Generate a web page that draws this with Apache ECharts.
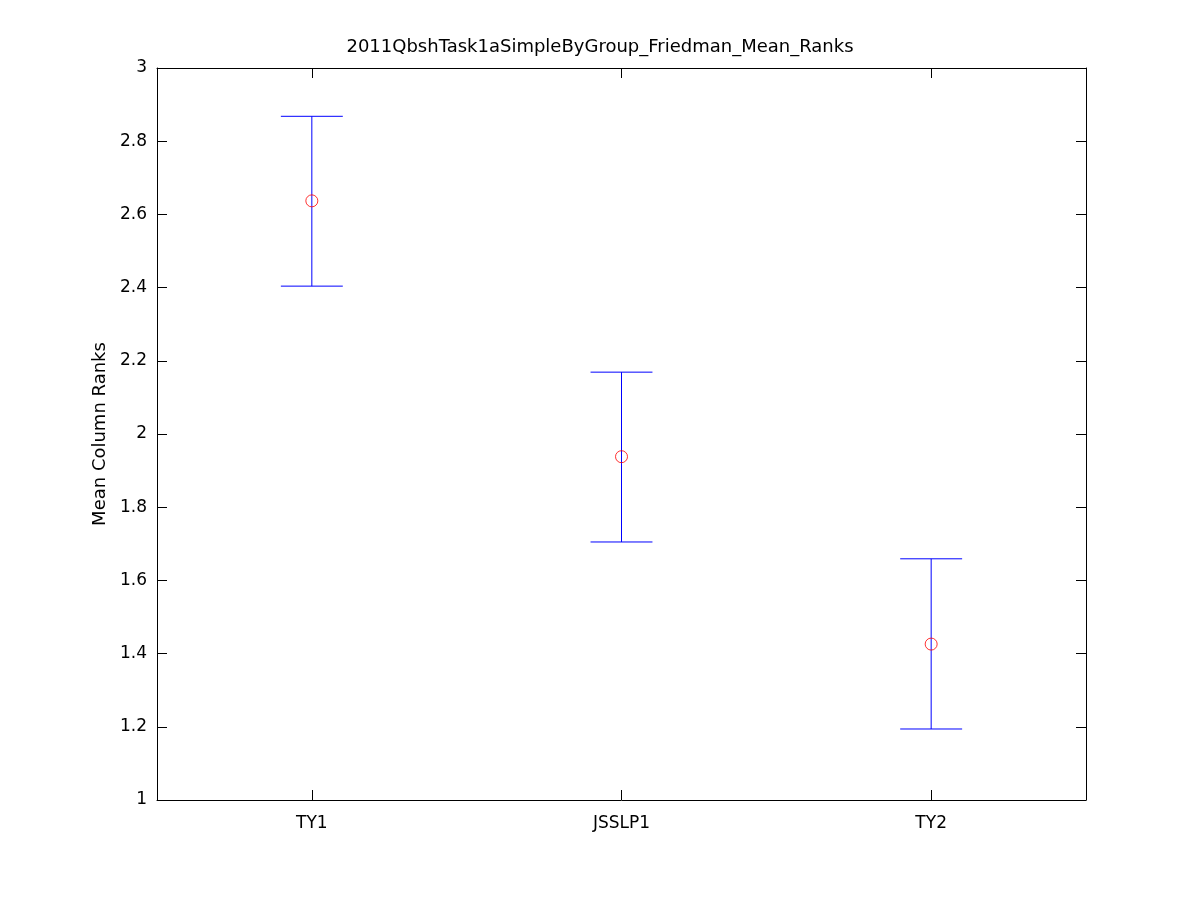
<!DOCTYPE html>
<html>
<head>
<meta charset="utf-8">
<script src="https://cdn.jsdelivr.net/npm/echarts@6/dist/echarts.min.js"></script>
<style>html,body{margin:0;padding:0;background:#fff;}#c{width:1200px;height:900px;}</style>
</head>
<body>
<div id="c"></div>
<script>
var titleText = '2011QbshTask1aSimpleByGroup_Friedman_Mean_Ranks';
var categories = ['TY1', 'JSSLP1', 'TY2'];
var meanRanks = [2.637, 1.938, 1.426];
var lowerBounds = [2.404, 1.705, 1.194];
var upperBounds = [2.868, 2.169, 1.659];
var yTicks = [1, 1.2, 1.4, 1.6, 1.8, 2, 2.2, 2.4, 2.6, 2.8, 3];

var errData = categories.map(function (c, i) { return [i, lowerBounds[i], upperBounds[i]]; });
var meanData = categories.map(function (c, i) { return [i, meanRanks[i]]; });

var font = '"DejaVu Sans", Arial, Helvetica, sans-serif';
var chart = echarts.init(document.getElementById('c'), null, { renderer: 'canvas' });
var axisLine = { show: true, onZero: false, lineStyle: { color: '#000', width: 1 } };
var option = {
  backgroundColor: '#fff',
  animation: false,
  title: {
    text: titleText, left: 'center', top: 33,
    textStyle: { fontFamily: font, fontSize: 18, fontWeight: 'normal', color: '#000' }
  },
  grid: { left: 157, top: 68, width: 929, height: 732, containLabel: false },
  xAxis: [
    { type: 'category', data: categories, boundaryGap: true, position: 'bottom',
      axisLine: axisLine,
      axisTick: { show: true, inside: true, length: 10, alignWithLabel: true, lineStyle: { color: '#000' } },
      axisLabel: { color: '#000', fontFamily: font, fontSize: 17, margin: 15 },
      splitLine: { show: false } },
    { type: 'category', data: categories, boundaryGap: true, position: 'top',
      axisLine: axisLine,
      axisTick: { show: true, inside: true, length: 10, alignWithLabel: true, lineStyle: { color: '#000' } },
      axisLabel: { show: false }, splitLine: { show: false } }
  ],
  yAxis: [
    { type: 'value', min: 1, max: 3, interval: 0.2, position: 'left',
      name: 'Mean Column Ranks', nameLocation: 'middle', nameGap: 48,
      nameTextStyle: { color: '#000', fontFamily: font, fontSize: 18 },
      axisLine: axisLine,
      axisTick: { show: true, inside: true, length: 10, lineStyle: { color: '#000' } },
      axisLabel: { color: '#000', fontFamily: font, fontSize: 17, margin: 10,
        formatter: function (v) { var r = Math.round(v * 10) / 10; return yTicks.indexOf(r) >= 0 ? String(r) : ''; } },
      splitLine: { show: false } },
    { type: 'value', min: 1, max: 3, interval: 0.2, position: 'right',
      axisLine: axisLine,
      axisTick: { show: true, inside: true, length: 10, lineStyle: { color: '#000' } },
      axisLabel: { show: false }, splitLine: { show: false } }
  ],
  series: [
    {
      type: 'custom', xAxisIndex: 0, yAxisIndex: 0, data: errData,
      renderItem: function (params, api) {
        var x = api.value(0);
        var lo = api.coord([x, api.value(1)]);
        var hi = api.coord([x, api.value(2)]);
        var hw = api.size([1, 0])[0] * 0.1;
        var st = { stroke: '#0000ff', lineWidth: 1, fill: null };
        return {
          type: 'group',
          children: [
            { type: 'line', shape: { x1: hi[0], y1: hi[1], x2: lo[0], y2: lo[1] }, style: st },
            { type: 'line', shape: { x1: hi[0] - hw, y1: hi[1], x2: hi[0] + hw, y2: hi[1] }, style: st },
            { type: 'line', shape: { x1: lo[0] - hw, y1: lo[1], x2: lo[0] + hw, y2: lo[1] }, style: st }
          ]
        };
      }
    },
    {
      type: 'scatter', xAxisIndex: 0, yAxisIndex: 0, data: meanData,
      symbol: 'circle', symbolSize: 12, z: 5,
      itemStyle: { color: 'rgba(0,0,0,0)', borderColor: '#ff0000', borderWidth: 1 }
    }
  ]
};
chart.setOption(option);
</script>
</body>
</html>
